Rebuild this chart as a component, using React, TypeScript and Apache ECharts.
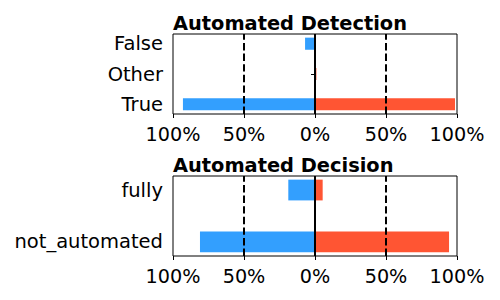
import React, { useEffect, useRef } from "react";
import * as echarts from "echarts";

// Categories listed bottom-to-top (ECharts category y axis starts at bottom)
const detectionCats = ["True", "Other", "False"];
const detectionNeg = [-0.93, 0, -0.07];
const detectionPos = [0.986, 0.01, 0];

const decisionCats = ["not_automated", "fully"];
const decisionNeg = [-0.81, -0.188];
const decisionPos = [0.944, 0.054];

const titles = ["Automated Detection", "Automated Decision"];
const dashedRefs = [-0.5, 0.5];
const zeroRef = 0;
const xTicks = { min: -1, max: 1, interval: 0.5 };

const BLUE = "#339ffe";
const RED = "#ff5533";
const FONT = "DejaVu Sans";

export default function App() {
  const ref = useRef<HTMLDivElement>(null);
  useEffect(() => {
    if (!ref.current) return;
    const chart = echarts.init(ref.current, undefined, { renderer: "svg" });

    const left = 173;
    const right = 43;
    const frames = [
      { top: 34, height: 80 },
      { top: 176, height: 80 },
    ];
    const barGrids = [
      { top: 74 - 90.9 / 2, height: 90.9 },
      { top: 216 - 103.9 / 2, height: 103.9 },
    ];

    const grid: any[] = [];
    const xAxis: any[] = [];
    const yAxis: any[] = [];
    const series: any[] = [];
    const title: any[] = [];

    const panels = [
      { cats: detectionCats, neg: detectionNeg, pos: detectionPos },
      { cats: decisionCats, neg: decisionNeg, pos: decisionPos },
    ];

    panels.forEach((p, i) => {
      const fi = i * 2;
      const bi = i * 2 + 1;
      grid.push({
        left,
        right,
        top: frames[i].top,
        height: frames[i].height,
        show: true,
        borderColor: "#000",
        borderWidth: 1,
        backgroundColor: "transparent",
      });
      grid.push({
        left,
        right,
        top: barGrids[i].top,
        height: barGrids[i].height,
      });
      xAxis.push({
        type: "value",
        gridIndex: fi,
        min: xTicks.min,
        max: xTicks.max,
        interval: xTicks.interval,
        axisLine: { show: false },
        axisTick: { show: true, length: 4, lineStyle: { color: "#000", width: 1 } },
        splitLine: { show: false },
        axisLabel: {
          color: "#000",
          fontSize: 19.2,
          fontFamily: FONT,
          margin: 11,
          formatter: (v: number) => Math.round(Math.abs(v) * 100) + "%",
        },
      });
      xAxis.push({
        type: "value",
        gridIndex: bi,
        min: xTicks.min,
        max: xTicks.max,
        show: false,
      });
      yAxis.push({
        type: "value",
        gridIndex: fi,
        min: 0,
        max: 1,
        show: false,
      });
      yAxis.push({
        type: "category",
        gridIndex: bi,
        data: p.cats,
        axisLine: { show: false },
        axisTick: {
          show: true,
          alignWithLabel: true,
          length: 4,
          lineStyle: { color: "#000", width: 1 },
        },
        axisLabel: {
          color: "#000",
          fontSize: 19.5,
          fontFamily: FONT,
          margin: 10,
        },
      });
      series.push({
        type: "bar",
        xAxisIndex: bi,
        yAxisIndex: bi,
        data: p.neg,
        barWidth: "40%",
        barGap: "-100%",
        itemStyle: { color: BLUE },
        z: 2,
      });
      series.push({
        type: "bar",
        xAxisIndex: bi,
        yAxisIndex: bi,
        data: p.pos,
        barWidth: "40%",
        barGap: "-100%",
        itemStyle: { color: RED },
        z: 2,
      });
      dashedRefs.forEach((x) => {
        series.push({
          type: "line",
          xAxisIndex: fi,
          yAxisIndex: fi,
          data: [
            [x, 0],
            [x, 1],
          ],
          symbol: "none",
          lineStyle: { color: "#000", width: 2, type: [7.4, 3.2] },
          z: 5,
          silent: true,
        });
      });
      series.push({
        type: "line",
        xAxisIndex: fi,
        yAxisIndex: fi,
        data: [
          [zeroRef, 0],
          [zeroRef, 1],
        ],
        symbol: "none",
        lineStyle: { color: "#000", width: 2, type: "solid" },
        z: 5,
        silent: true,
      });
      title.push({
        text: titles[i],
        left,
        top: frames[i].top - 20.5,
        padding: 0,
        textStyle: {
          fontSize: 19.4,
          fontWeight: "bold",
          fontFamily: FONT,
          color: "#000",
        },
      });
    });

    chart.setOption({
      animation: false,
      textStyle: { fontFamily: FONT },
      title,
      grid,
      xAxis,
      yAxis,
      series,
    });
    return () => chart.dispose();
  }, []);

  return (
    <div
      ref={ref}
      style={{ position: "fixed", left: 0, top: 0, width: 500, height: 300, background: "#fff" }}
    />
  );
}
